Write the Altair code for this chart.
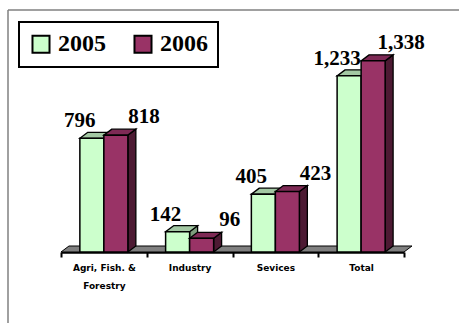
import json
import altair as alt
import pandas as pd

categories = ["Agri, Fish. & Forestry", "Industry", "Sevices", "Total"]
series = ["2005", "2006"]
values_2005 = [796, 142, 405, 1233]
values_2006 = [818, 96, 423, 1338]

FRONT = {"2005": "#CCFFCC", "2006": "#993366"}
TOP = {"2005": "#A3C8A3", "2006": "#7E2A55"}
SIDE = {"2005": "#7D9E7D", "2006": "#4D1A33"}
LABEL_DX = {"2005": -12, "2006": 28}
LABEL_DY = {"2005": -11, "2006": -12}

BAR_W = 0.28      # bar width in category units
DEPTH_X = 0.093   # 3-D depth, x
DEPTH_Y = 42      # 3-D depth, value units
YMAX = 1470

xs = alt.Scale(domain=[0, len(categories)], nice=False, zero=False)
ys = alt.Scale(domain=[0, YMAX], nice=False)

label_lines = [c.replace("& ", "&\n").split("\n") for c in categories]
label_expr = (
    "(datum.value % 1) > 0 ? " + json.dumps(label_lines)
    + "[floor(datum.value)] : ''"
)
axis_values = [k / 2 for k in range(2 * len(categories) + 1)]
XAXIS = alt.Axis(
    title=None, values=axis_values, labelExpr=label_expr, grid=False,
    domainColor="black", domainWidth=2.5, tickColor="black",
    tickWidth=2, tickSize=5,
    tickOpacity={"condition": {"test": "(datum.value % 1) > 0", "value": 0}, "value": 1},
    labelFont="DejaVu Sans", labelFontSize=9, labelFontWeight="bold",
    labelColor="black", labelPadding=6, labelLineHeight=18,
    labelOverlap=False, labelFlush=False, labelBaseline="top",
)


def bar_layers(vals, s, si):
    front, top, side, lab = [], [], [], []
    for i, (c, v) in enumerate(zip(categories, vals)):
        x0 = i + 0.5 - BAR_W + si * BAR_W
        x1 = x0 + BAR_W
        front.append(dict(cat=c, series=s, x0=x0, x1=x1, v=v))
        top += [dict(id=i, y=v, xa=x0, xb=x1),
                dict(id=i, y=v + DEPTH_Y, xa=x0 + DEPTH_X, xb=x1 + DEPTH_X)]
        side += [dict(id=i, x=x1, ya=0, yb=v),
                 dict(id=i, x=x1 + DEPTH_X, ya=DEPTH_Y, yb=v + DEPTH_Y)]
        lab.append(dict(xc=(x0 + x1) / 2, v=v, t=f"{v:,}"))
    side_l = alt.Chart(pd.DataFrame(side)).mark_area(
        orient="vertical", fill=SIDE[s], stroke="black", strokeWidth=1.3
    ).encode(
        x=alt.X("x:Q", scale=xs, axis=XAXIS),
        y=alt.Y("ya:Q", scale=ys, axis=None),
        y2="yb:Q",
        detail="id:N",
    )
    top_l = alt.Chart(pd.DataFrame(top)).mark_area(
        orient="horizontal", fill=TOP[s], stroke="black", strokeWidth=1.3
    ).encode(
        y=alt.Y("y:Q", scale=ys, axis=None),
        x=alt.X("xa:Q", scale=xs, axis=XAXIS),
        x2="xb:Q",
        detail="id:N",
    )
    front_l = alt.Chart(pd.DataFrame(front)).mark_rect(
        stroke="black", strokeWidth=1.5
    ).encode(
        x=alt.X("x0:Q", scale=xs, axis=XAXIS),
        x2="x1:Q",
        y=alt.Y("v:Q", scale=ys, axis=None),
        y2=alt.datum(0),
        color=alt.Color(
            "series:N",
            scale=alt.Scale(domain=series, range=[FRONT[k] for k in series]),
            legend=alt.Legend(
                title=None, orient="none", legendX=-42, legendY=-20,
                direction="horizontal", symbolType="square", symbolSize=290,
                symbolStrokeColor="black", symbolStrokeWidth=2,
                symbolOpacity=1,
                labelFont="Liberation Serif", labelFontSize=24,
                labelFontWeight="bold", labelColor="black", labelOffset=5,
                columnPadding=24, padding=10, strokeColor="black",
                fillColor="white",
            ),
        ),
    )
    lab_l = alt.Chart(pd.DataFrame(lab)).mark_text(
        font="Liberation Serif", fontSize=21, fontWeight="bold", color="black",
        dx=LABEL_DX[s], dy=LABEL_DY[s], baseline="alphabetic", align="center",
    ).encode(
        x=alt.X("xc:Q", scale=xs, axis=XAXIS),
        y=alt.Y("v:Q", scale=ys, axis=None),
        text="t:N",
    )
    return [side_l, top_l, front_l], lab_l


floor_df = pd.DataFrame([
    dict(y=0, xa=0, xb=len(categories)),
    dict(y=DEPTH_Y, xa=DEPTH_X, xb=len(categories) + DEPTH_X),
])
floor = alt.Chart(floor_df).mark_area(
    orient="horizontal", fill="#808080", stroke="black", strokeWidth=1
).encode(
    y=alt.Y("y:Q", scale=ys, axis=None),
    x=alt.X("xa:Q", scale=xs, axis=XAXIS),
    x2="xb:Q",
)

g_layers, g_lab = bar_layers(values_2005, "2005", 0)
p_layers, p_lab = bar_layers(values_2006, "2006", 1)

frame_src = alt.Data(values=[{}])
frame_top = alt.Chart(frame_src).mark_rule(color="#808080", strokeWidth=1.5).encode(
    x=alt.value(-53), x2=alt.value(400), y=alt.value(-32)
)
frame_left = alt.Chart(frame_src).mark_rule(color="#808080", strokeWidth=1.5).encode(
    x=alt.value(-53), y=alt.value(-32), y2=alt.value(290)
)

chart = alt.layer(
    frame_top, frame_left, floor, *g_layers, *p_layers, g_lab, p_lab
).properties(
    width=343, height=210,
    autosize=alt.AutoSizeParams(type="none"),
    padding={"left": 61, "top": 42, "right": 55, "bottom": 71},
).configure(
    background="white",
    view=alt.ViewConfig(stroke=None),
    legend=alt.LegendConfig(strokeWidth=2),
)

chart.save("out.html", embed_options={"renderer": "svg", "actions": False})
